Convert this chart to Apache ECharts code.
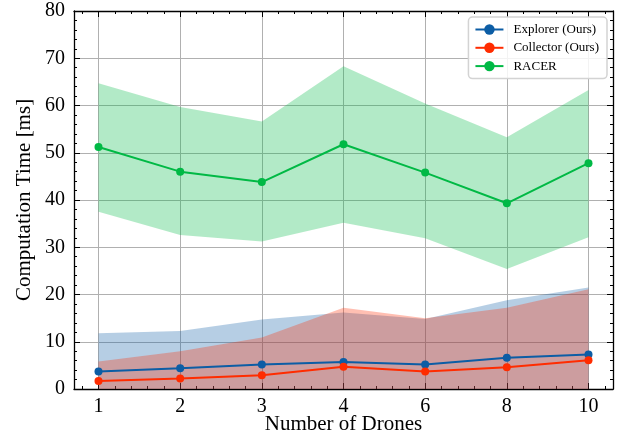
<!DOCTYPE html>
<html>
<head>
<meta charset="utf-8">
<script src="https://cdn.jsdelivr.net/npm/echarts@6/dist/echarts.min.js"></script>
<style>
html,body{margin:0;padding:0;background:#fff;}
#chart{width:627px;height:439px;}
</style>
</head>
<body>
<div id="chart"></div>
<script>
// ---- data ----
const categories = ['1', '2', '3', '4', '6', '8', '10'];
const explorerMean  = [3.7, 4.4, 5.2, 5.7, 5.2, 6.6, 7.3];
const explorerUpper = [11.8, 12.3, 14.7, 16.2, 14.8, 18.8, 21.5];
const explorerLower = [0, 0, 0, 0, 0, 0, 0];
const collectorMean  = [1.7, 2.2, 2.9, 4.7, 3.7, 4.6, 6.1];
const collectorUpper = [5.8, 8.0, 10.9, 17.2, 15.0, 17.2, 21.1];
const collectorLower = [0, 0, 0, 0, 0, 0, 0];
const racerMean  = [51.2, 46.0, 43.8, 51.8, 45.8, 39.3, 47.8];
const racerUpper = [64.7, 59.7, 56.6, 68.3, 60.4, 53.3, 63.3];
const racerLower = [37.5, 32.6, 31.2, 35.2, 31.9, 25.4, 32.1];
const yTicks = [0, 10, 20, 30, 40, 50, 60, 70, 80];

const BLUE = '#0C5DA5', RED = '#FF2C00', GREEN = '#00B945';
const FONT = 'Liberation Serif';

const pts = arr => arr.map((v, i) => [i, v]);

function xAxisDef(opts) {
  const base = {
    type: 'value', min: -0.3, max: 6.3, gridIndex: 0,
    axisLine: {show: false, onZero: false},
    axisTick: {show: true, inside: true, length: 3, lineStyle: {color: '#000', width: 1}},
    axisLabel: {show: false},
    splitLine: {show: false}
  };
  return Object.assign(base, opts);
}
const isInt = v => Math.abs(v - Math.round(v)) < 1e-6;

function bandSeries(upper, lower, color) {
  return {
    type: 'custom', silent: true, clip: true, z: 1,
    data: [[0, upper[0]]],
    renderItem: function (params, api) {
      const top = upper.map((v, i) => api.coord([i, v]));
      const bot = lower.map((v, i) => api.coord([i, v])).reverse();
      return {
        type: 'polygon',
        shape: {points: top.concat(bot)},
        style: {fill: color, opacity: 0.3}
      };
    }
  };
}

const option = {
  animation: false,
  textStyle: {fontFamily: FONT},
  grid: {left: 74, right: 14, top: 11, bottom: 50, containLabel: false, outerBoundsMode: 'none'},
  legend: {
    data: ['Explorer (Ours)', 'Collector (Ours)', 'RACER'],
    orient: 'vertical', right: 20, top: 17, align: 'left',
    itemWidth: 28, itemHeight: 13, itemGap: 5.3,
    padding: [6, 8, 6, 6],
    backgroundColor: 'rgba(255,255,255,0.85)',
    borderColor: '#d3d3d3', borderWidth: 1.5, borderRadius: 4,
    textStyle: {fontFamily: FONT, fontSize: 13, color: '#000', padding: [0, 0, 0, 5]}
  },
  xAxis: [
    xAxisDef({
      position: 'bottom', splitNumber: 7, minInterval: 1, maxInterval: 1,
      axisLine: {show: true, onZero: false, lineStyle: {color: '#000', width: 1.3}},
      axisTick: {show: true, inside: true, length: 6, lineStyle: {color: '#000', width: 1}},
      axisLabel: {show: true, margin: 8, fontFamily: FONT, fontSize: 20, color: '#000',
        showMinLabel: true, showMaxLabel: true,
        formatter: v => isInt(v) ? (categories[Math.round(v)] || '') : ''},
      splitLine: {show: true, lineStyle: {color: '#b0b0b0', width: 1}},
      name: 'Number of Drones', nameLocation: 'middle', nameGap: 25, nameMoveOverlap: false,
      nameTextStyle: {fontFamily: FONT, fontSize: 21, color: '#000'}
    }),
    xAxisDef({position: 'bottom', splitNumber: 33, minInterval: 0.2, maxInterval: 0.2}),
    xAxisDef({
      position: 'top', splitNumber: 7, minInterval: 1, maxInterval: 1,
      axisLine: {show: true, onZero: false, lineStyle: {color: '#000', width: 1.3}},
      axisTick: {show: true, inside: true, length: 6, lineStyle: {color: '#000', width: 1}}
    }),
    xAxisDef({position: 'top', splitNumber: 33, minInterval: 0.2, maxInterval: 0.2})
  ],
  yAxis: [
    {
      type: 'value', position: 'left', min: yTicks[0], max: yTicks[yTicks.length - 1], interval: 10,
      axisLine: {show: true, onZero: false, lineStyle: {color: '#000', width: 1.3}},
      axisTick: {show: true, inside: true, length: 6, lineStyle: {color: '#000', width: 1}},
      minorTick: {show: true, splitNumber: 5, length: 3, lineStyle: {color: '#000', width: 1}},
      axisLabel: {margin: 9, fontFamily: FONT, fontSize: 20, color: '#000'},
      splitLine: {show: true, lineStyle: {color: '#b0b0b0', width: 1}},
      name: 'Computation Time [ms]', nameLocation: 'middle', nameGap: 39, nameMoveOverlap: false,
      nameTextStyle: {fontFamily: FONT, fontSize: 21, color: '#000'}
    },
    {
      type: 'value', position: 'right', min: yTicks[0], max: yTicks[yTicks.length - 1], interval: 10,
      axisLine: {show: true, onZero: false, lineStyle: {color: '#000', width: 1.3}},
      axisTick: {show: true, inside: true, length: 6, lineStyle: {color: '#000', width: 1}},
      minorTick: {show: true, splitNumber: 5, length: 3, lineStyle: {color: '#000', width: 1}},
      axisLabel: {show: false},
      splitLine: {show: false}
    }
  ],
  series: [
    bandSeries(explorerUpper, explorerLower, BLUE),
    bandSeries(collectorUpper, collectorLower, RED),
    bandSeries(racerUpper, racerLower, GREEN),
    {type: 'line', name: 'Explorer (Ours)', data: pts(explorerMean), symbol: 'circle', symbolSize: 8,
     itemStyle: {color: BLUE}, lineStyle: {color: BLUE, width: 2}, z: 3},
    {type: 'line', name: 'Collector (Ours)', data: pts(collectorMean), symbol: 'circle', symbolSize: 8,
     itemStyle: {color: RED}, lineStyle: {color: RED, width: 2}, z: 3},
    {type: 'line', name: 'RACER', data: pts(racerMean), symbol: 'circle', symbolSize: 8,
     itemStyle: {color: GREEN}, lineStyle: {color: GREEN, width: 2}, z: 3}
  ]
};

const chart = echarts.init(document.getElementById('chart'), null, {renderer: 'canvas'});
chart.setOption(option);
</script>
</body>
</html>
